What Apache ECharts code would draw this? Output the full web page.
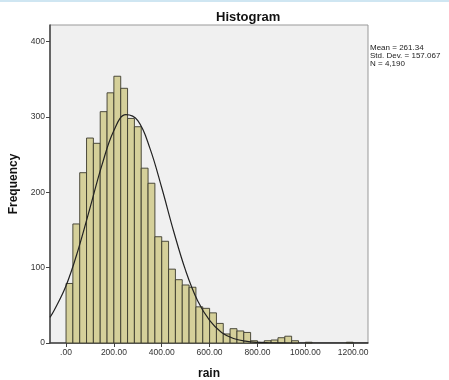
<!DOCTYPE html>
<html>
<head>
<meta charset="utf-8">
<script src="https://cdn.jsdelivr.net/npm/echarts@6/dist/echarts.min.js"></script>
<style>
  html, body { margin: 0; padding: 0; background: #fff; }
  #chart { width: 449px; height: 380px; }
</style>
</head>
<body>
<div id="chart"></div>
<script>
// bin counts, bins start at 0, each 200/7 wide
const binWidth = 200 / 7
const counts = [79, 158, 226, 272, 265, 307, 332, 354, 338, 298, 287, 232, 212, 141,
  135, 98, 84, 77, 74, 48, 46, 40, 26, 12, 19, 16, 14, 3, 1, 3, 4, 7, 9, 3,
  0, 1, 0, 0, 0, 0, 0, 1]

// fitted normal curve
const curveX = [-67, -50, 0, 50, 100, 150, 200, 250, 300, 350, 400, 450, 500, 550,
  600, 650, 700, 750, 800, 850, 900, 1000, 1100, 1262]
const curveY = [34, 43, 76, 123, 179, 236, 282, 303, 295, 259, 206, 148, 96, 56,
  30, 14, 6, 2.4, 0.8, 0.3, 0.1, 0, 0, 0]

const xTicks = [0, 200, 400, 600, 800, 1000, 1200]
const statsLines = ['Mean = 261.34', 'Std. Dev. = 157.067', 'N = 4,190']

const bins = []
for (let i = 0; i < counts.length; i++) {
  if (counts[i] > 0) bins.push([i * binWidth, (i + 1) * binWidth, counts[i]])
}
const curve = curveX.map((x, i) => [x, curveY[i]])

const chart = echarts.init(document.getElementById('chart'))
const option = {
  animation: false,
  textStyle: { fontFamily: 'Arial, "Liberation Sans", sans-serif' },
  title: {
    text: 'Histogram',
    left: 211,
    top: 6,
    textStyle: { fontSize: 13, fontWeight: 'bold', color: '#111' }
  },
  grid: {
    left: 50,
    right: 81,
    top: 25,
    bottom: 37,
    outerBoundsMode: 'none',
    containLabel: false,
    show: true,
    backgroundColor: '#f0f0f0',
    borderColor: '#999',
    borderWidth: 1
  },
  xAxis: {
    type: 'value',
    min: -67,
    max: 1262,
    name: 'rain',
    nameLocation: 'middle',
    nameGap: 25,
    nameTextStyle: { fontSize: 12, fontWeight: 'bold', color: '#111' },
    axisLine: { show: true, onZero: false, lineStyle: { color: '#444', width: 1.5 } },
    axisTick: { show: true, length: 4, customValues: xTicks, lineStyle: { color: '#444' } },
    axisLabel: {
      customValues: xTicks,
      fontSize: 8.5,
      color: '#333',
      margin: 5,
      formatter: v => (v === 0 ? '.00' : v.toFixed(2))
    },
    splitLine: { show: false }
  },
  yAxis: {
    type: 'value',
    min: 0,
    max: 422,
    interval: 100,
    name: 'Frequency',
    nameLocation: 'middle',
    nameGap: 30,
    nameTextStyle: { fontSize: 12, fontWeight: 'bold', color: '#111' },
    axisLine: { show: true, onZero: false, lineStyle: { color: '#444', width: 1.5 } },
    axisTick: { show: true, length: 4, lineStyle: { color: '#444' } },
    axisLabel: { fontSize: 8.5, color: '#333', margin: 5, showMaxLabel: false },
    splitLine: { show: false }
  },
  graphic: [
    {
      type: 'rect',
      left: 0,
      top: 0,
      shape: { width: 449, height: 2 },
      style: { fill: '#cfe6f2' }
    },
    {
      type: 'text',
      left: 370,
      top: 44,
      style: {
        text: statsLines.join('\n'),
        fontSize: 8,
        lineHeight: 8,
        fill: '#222',
        fontFamily: 'Arial, "Liberation Sans", sans-serif'
      }
    }
  ],
  series: [
    {
      type: 'custom',
      data: bins,
      encode: { x: [0, 1], y: 2 },
      renderItem: function (params, api) {
        const topLeft = api.coord([api.value(0), api.value(2)])
        const bottomRight = api.coord([api.value(1), 0])
        return {
          type: 'rect',
          shape: {
            x: topLeft[0],
            y: topLeft[1],
            width: bottomRight[0] - topLeft[0],
            height: bottomRight[1] - topLeft[1]
          },
          style: { fill: '#d5d09a', stroke: '#3b3a2c', lineWidth: 0.9 }
        }
      },
      z: 2
    },
    {
      type: 'line',
      data: curve,
      smooth: 0.4,
      showSymbol: false,
      clip: true,
      lineStyle: { color: '#222', width: 1.2 },
      z: 3
    }
  ]
}
chart.setOption(option)
</script>
</body>
</html>
